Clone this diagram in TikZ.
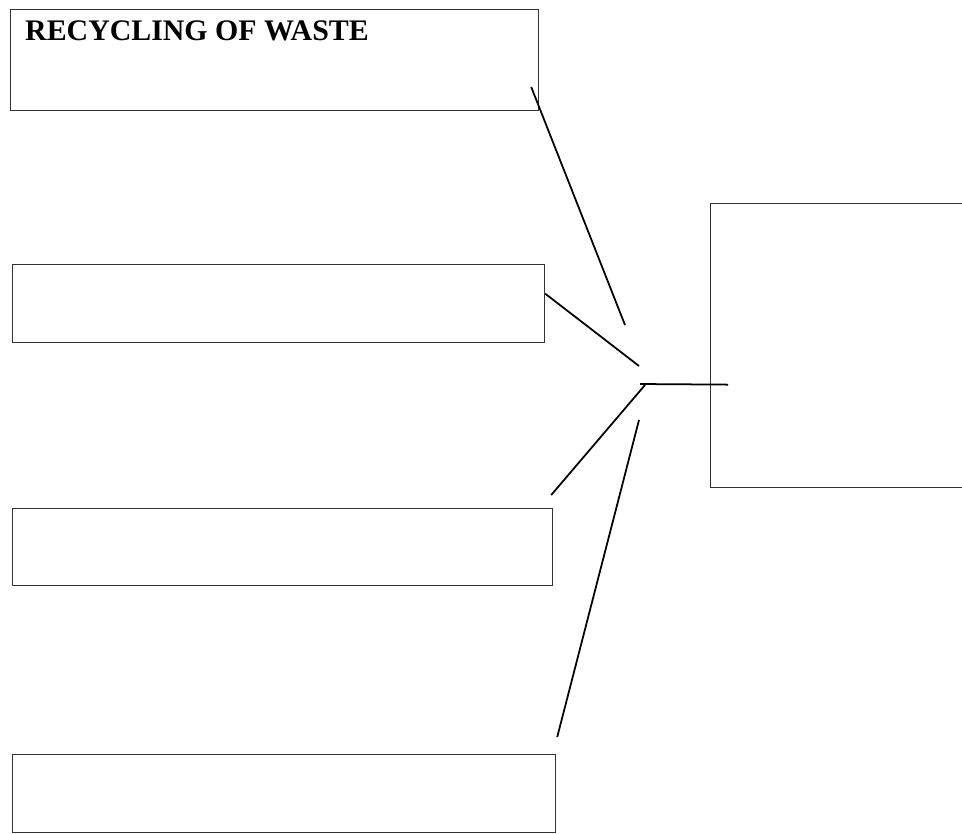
\documentclass[tikz,border=0pt]{standalone}
\usepackage{fontspec}
\setmainfont{Liberation Serif}
\usetikzlibrary{positioning}
\begin{document}
\begin{tikzpicture}[x=0.02cm, y=-0.02cm]
    \tikzset{box/.style = {draw=black!80, line width=0.75pt, anchor=north west, inner sep=0pt}}
    \tikzset{link/.style = {draw=black, line width=1pt}}
    \useasboundingbox (0,0) rectangle (962,833);
    \node[box, minimum width=10.56cm, minimum height=2.02cm] (recycling) at (10,9) {};
    \node[anchor=base west, font=\fontsize{17}{20}\selectfont\bfseries] (title) at (19,40) {RECYCLING OF WASTE};
    \node[box, minimum width=10.64cm, minimum height=1.56cm] (first) at (12,264) {};
    \node[box, minimum width=10.80cm, minimum height=1.54cm] (second) at (12,508) {};
    \node[box, minimum width=10.86cm, minimum height=1.56cm] (third) at (12,754) {};
    \node[box, minimum width=6cm, minimum height=5.68cm] (sink) at (710,203) {};
    % free ends near the hub
    \coordinate (hubA) at (625,325);
    \coordinate (hubB) at (639,366);
    \coordinate (hubC) at (640,384);
    \coordinate (hubD) at (645,385);
    \coordinate (hubE) at (639,420);
    \draw[link] ([xshift=-0.16cm, yshift=-1.56cm]recycling.north east) -- (hubA);
    \draw[link] ([yshift=0.2cm]first.east) -- (hubB);
    \draw[link] (hubC) -- ([xshift=0.36cm, yshift=-0.78cm]sink.west);
    \draw[link] (hubD) -- ([xshift=-0.04cm, yshift=0.26cm]second.north east);
    \draw[link] (hubE) -- ([xshift=0.02cm, yshift=0.34cm]third.north east);
\end{tikzpicture}
\end{document}
